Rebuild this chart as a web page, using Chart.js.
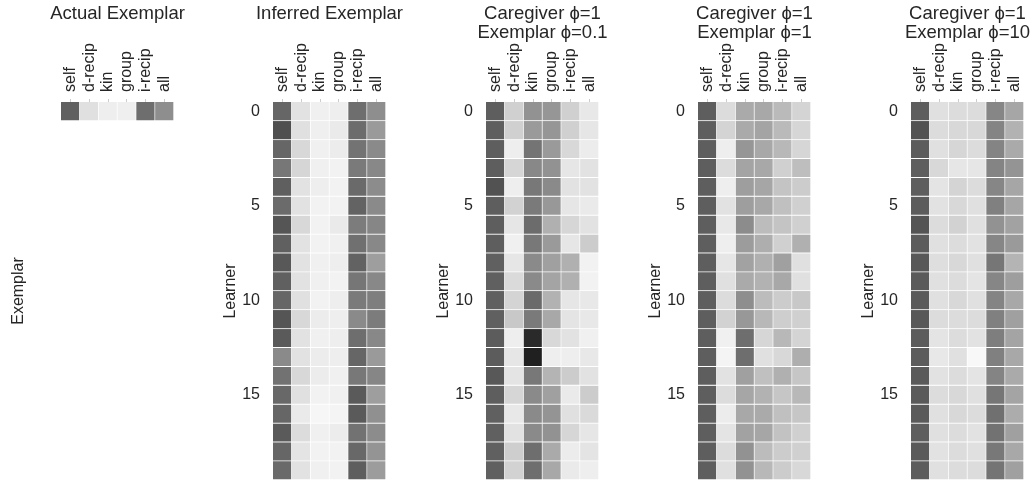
<!DOCTYPE html>
<html><head><meta charset="utf-8">
<script src="https://cdn.jsdelivr.net/npm/chart.js@4.4.0/dist/chart.umd.min.js"></script>
<style>
html,body{margin:0;padding:0;background:#fff;width:1034px;height:482px;overflow:hidden;position:relative;}
.p{position:absolute;top:0;width:233px;height:482px;}
</style></head><body>
<div class="p" style="left:1px"><canvas id="c0" width="233" height="482"></canvas></div>
<div class="p" style="left:213px"><canvas id="c1" width="233" height="482"></canvas></div>
<div class="p" style="left:426px"><canvas id="c2" width="233" height="482"></canvas></div>
<div class="p" style="left:638px"><canvas id="c3" width="233" height="482"></canvas></div>
<div class="p" style="left:851px"><canvas id="c4" width="233" height="482"></canvas></div>
<script>
// Column categories and row tick labels
const columns = ['self','d-recip','kin','group','i-recip','all'];
const rowTicks = [0,5,10,15];
const nRows = 20;

// Cell shades (grey level 0=black .. 255=white)
const actualExemplar = [
  [96,224,238,239,110,142]
];
const inferredExemplar = [
  [102,226,240,238,110,142],
  [79,224,239,234,108,154],
  [102,216,240,236,115,138],
  [119,214,240,242,122,136],
  [95,226,238,242,106,140],
  [107,226,242,242,99,138],
  [85,216,242,234,124,134],
  [96,226,242,240,112,136],
  [88,226,240,238,98,158],
  [96,226,240,242,118,136],
  [102,224,242,238,122,126],
  [85,216,236,238,138,124],
  [90,226,240,238,110,136],
  [138,226,236,238,102,154],
  [114,216,236,240,120,134],
  [104,224,242,240,90,158],
  [102,234,246,244,90,144],
  [90,220,240,236,114,140],
  [102,228,242,242,104,148],
  [106,226,240,242,94,156]
];
const exemplarPhi01 = [
  [94,208,146,150,208,232],
  [94,208,154,150,208,230],
  [94,238,116,154,216,236],
  [94,214,136,146,230,226],
  [82,238,120,138,226,226],
  [94,210,122,152,230,234],
  [94,230,108,176,214,226],
  [94,240,120,154,230,204],
  [96,230,138,160,176,242],
  [96,218,138,164,176,242],
  [96,212,106,178,230,232],
  [96,200,122,168,228,232],
  [92,238,42,216,226,240],
  [92,230,32,238,238,232],
  [88,228,120,180,204,226],
  [94,214,138,160,234,204],
  [96,232,138,148,224,218],
  [96,226,138,146,214,230],
  [96,206,110,170,236,228],
  [96,210,110,168,234,238]
];
const exemplarPhi1 = [
  [94,220,170,168,186,212],
  [94,212,170,164,186,214],
  [94,238,150,168,184,214],
  [94,220,164,168,208,190],
  [94,238,158,166,196,204],
  [94,226,158,168,192,208],
  [94,232,140,188,196,208],
  [94,238,156,174,208,176],
  [94,230,162,176,160,224],
  [94,224,170,178,168,224],
  [94,220,142,188,204,200],
  [94,210,152,184,206,208],
  [94,240,110,214,184,212],
  [94,244,110,224,216,174],
  [94,226,160,192,176,198],
  [94,220,166,178,198,184],
  [94,236,168,170,192,198],
  [94,228,162,166,194,208],
  [94,220,146,188,204,208],
  [94,224,146,184,204,216]
];
const exemplarPhi10 = [
  [94,224,220,220,134,166],
  [82,220,216,216,132,178],
  [92,224,214,220,132,170],
  [94,216,230,230,132,148],
  [94,228,212,220,134,166],
  [92,226,216,224,128,166],
  [84,220,210,224,146,162],
  [92,224,220,226,134,154],
  [88,222,216,224,118,180],
  [90,224,220,228,134,158],
  [90,224,216,224,132,168],
  [88,220,220,220,128,160],
  [92,228,220,226,126,164],
  [92,232,224,248,128,168],
  [90,226,220,228,132,170],
  [90,220,216,224,118,164],
  [90,224,216,220,112,172],
  [94,224,220,226,114,160],
  [90,226,220,224,120,168],
  [92,224,220,220,116,160]
];

const FONT = "'Liberation Sans', Arial, Helvetica, sans-serif";
const TXT = '#262626';
Chart.defaults.font.family = FONT;

const panels = [
  {id:'c0', title:['Actual Exemplar',''], ylabel:'Exemplar', data:actualExemplar, ticks:false},
  {id:'c1', title:['Inferred Exemplar',''], ylabel:'Learner', data:inferredExemplar, ticks:true},
  {id:'c2', title:['Caregiver \u03d5=1','Exemplar \u03d5=0.1'], ylabel:'Learner', data:exemplarPhi01, ticks:true},
  {id:'c3', title:['Caregiver \u03d5=1','Exemplar \u03d5=1'], ylabel:'Learner', data:exemplarPhi1, ticks:true},
  {id:'c4', title:['Caregiver \u03d5=1','Exemplar \u03d5=10'], ylabel:'Learner', data:exemplarPhi10, ticks:true}
];

const shade = g => `rgb(${g},${g},${g})`;

panels.forEach(p => {
  const datasets = p.data.map(row => ({
    data: row.map(() => 1),
    backgroundColor: row.map(shade),
    borderColor: '#ffffff',
    borderWidth: {top:0, left:0, right:1, bottom:1},
    borderSkipped: false,
    categoryPercentage: 1,
    barPercentage: 1
  }));
  new Chart(document.getElementById(p.id), {
    type: 'bar',
    data: {labels: columns, datasets},
    options: {
      responsive: false,
      animation: false,
      layout: {padding: {left:0, right:0, top:0, bottom:2}},
      plugins: {
        legend: {display:false},
        tooltip: {enabled:false},
        title: {display:true, text:p.title, color:TXT,
          font:{size:18.5, family:FONT, weight:'normal', lineHeight:1.0},
          padding:{top:5, bottom:0}}
      },
      scales: {
        x: {
          position:'top', stacked:true,
          grid:{display:true, drawOnChartArea:false, drawTicks:true, tickLength:3, tickColor:'#cccccc', offset:false},
          border:{display:false},
          ticks:{font:{size:16}, color:TXT, minRotation:90, maxRotation:90, padding:7, autoSkip:false, labelOffset:19.2},
          afterFit(s){ s.height = 60; s.paddingLeft = 0; s.paddingRight = 0; }
        },
        y: {
          stacked:true, reverse:true, min:0, max:nRows,
          grid:{display:false, drawTicks:false},
          border:{display:false},
          afterBuildTicks(s){ s.ticks = rowTicks.map(v => ({value: v + 0.5})); },
          ticks:{display:p.ticks, font:{size:16}, color:TXT, padding:13, autoSkip:false,
            callback:(v) => String(v - 0.5)},
          title:{display:true, text:p.ylabel, color:TXT, font:{size:16}, padding:{top:8.4, bottom:0}},
          afterFit(s){ s.width = 60; s.paddingTop = 0; s.paddingBottom = 0; }
        },
        spacer: {
          position:'right', type:'linear', display:true,
          grid:{display:false, drawTicks:false}, border:{display:false},
          ticks:{display:false},
          afterFit(s){ s.width = 60; s.paddingTop = 0; s.paddingBottom = 0; }
        }
      }
    }
  });
});
</script>
</body></html>
